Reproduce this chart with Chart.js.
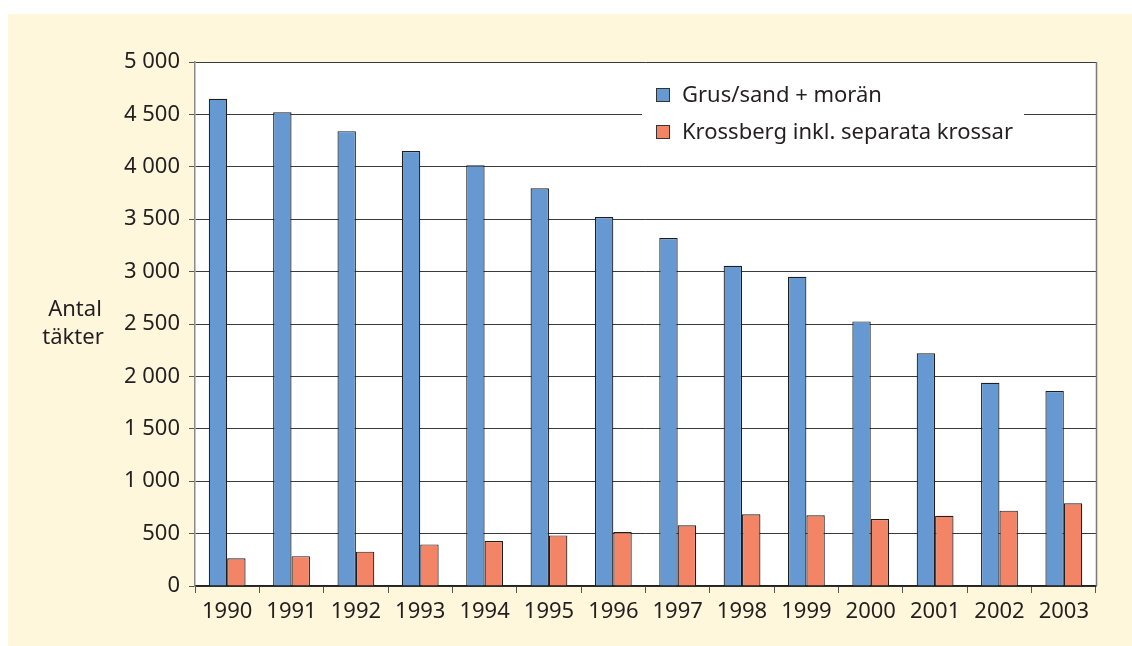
<!DOCTYPE html>
<html>
<head>
<meta charset="utf-8">
<script src="https://cdn.jsdelivr.net/npm/chart.js@4.4.0/dist/chart.umd.min.js"></script>
<style>
  html, body { margin: 0; padding: 0; background: #ffffff; }
  #wrap { position: absolute; left: 8px; top: 14px; width: 1124px; height: 632px; background: #fef7dc; }
  canvas { display: block; }
</style>
</head>
<body>
<div id="wrap"><canvas id="c" width="1124" height="632"></canvas></div>
<script>
const years = ["1990","1991","1992","1993","1994","1995","1996","1997","1998","1999","2000","2001","2002","2003"];
const grusSand = [4650, 4520, 4340, 4150, 4015, 3795, 3520, 3320, 3055, 2950, 2525, 2220, 1940, 1860];
const krossberg = [265, 285, 328, 397, 430, 483, 515, 580, 684, 674, 640, 671, 719, 789];
const seriesLabels = ["Grus/sand + morän", "Krossberg inkl. separata krossar"];
const yTitleLines = ["Antal", "täkter"];
const yMin = 0, yMax = 5000, yStep = 500;

const FONT = "'Noto Sans', 'Open Sans', sans-serif";
const FS = 22;
const TEXT = "#231f20";

function fmt(v) {
  if (v >= 1000) return Math.floor(v / 1000) + " " + String(v % 1000).padStart(3, "0");
  return String(v);
}

const extras = {
  id: "extras",
  beforeDraw(chart) {
    const ctx = chart.ctx;
    const ca = chart.chartArea;
    ctx.save();
    ctx.fillStyle = "#ffffff";
    ctx.fillRect(ca.left, ca.top, ca.right - ca.left, ca.bottom - ca.top);
    ctx.restore();
  },
  beforeDatasetsDraw(chart) {
    const ctx = chart.ctx;
    const ca = chart.chartArea;
    ctx.save();
    // right border
    ctx.strokeStyle = "#7a7a7a";
    ctx.lineWidth = 1.5;
    ctx.beginPath();
    ctx.moveTo(ca.right + 0.5, ca.top);
    ctx.lineTo(ca.right + 0.5, ca.bottom);
    ctx.stroke();
    // legend box (white)
    ctx.fillStyle = "#ffffff";
    ctx.fillRect(634, 62, 382, 78);
    const ds = chart.data.datasets;
    const ys = [81, 118];
    ctx.font = FS + "px " + FONT;
    ctx.textBaseline = "middle";
    ctx.textAlign = "left";
    ds.forEach((d, i) => {
      ctx.fillStyle = d.backgroundColor;
      ctx.fillRect(648.5, ys[i] - 6.5, 13, 13);
      ctx.strokeStyle = "#333";
      ctx.lineWidth = 1;
      ctx.strokeRect(648.5, ys[i] - 6.5, 13, 13);
      ctx.fillStyle = TEXT;
      ctx.fillText(d.label, 674, ys[i] + 1);
    });
    ctx.restore();
  },
  afterDraw(chart) {
    const ctx = chart.ctx;
    ctx.save();
    ctx.font = FS + "px " + FONT;
    ctx.fillStyle = TEXT;
    ctx.textAlign = "center";
    ctx.textBaseline = "middle";
    ctx.fillText(yTitleLines[0], 67, 296);
    ctx.fillText(yTitleLines[1], 65, 324);
    ctx.restore();
  }
};

new Chart(document.getElementById("c"), {
  type: "bar",
  data: {
    labels: years,
    datasets: [
      { label: seriesLabels[0], data: grusSand, backgroundColor: "#6699d2", borderColor: "#1e1e1e", borderWidth: 1.2 },
      { label: seriesLabels[1], data: krossberg, backgroundColor: "#f48466", borderColor: "#1e1e1e", borderWidth: 1.2 }
    ]
  },
  options: {
    responsive: false,
    animation: false,
    layout: { padding: { top: 48, right: 36, left: 0, bottom: 0 } },
    datasets: { bar: { categoryPercentage: 0.572, barPercentage: 1.0 } },
    plugins: { legend: { display: false }, tooltip: { enabled: false } },
    scales: {
      x: {
        grid: { offset: true, drawOnChartArea: false, drawTicks: true, tickLength: 7, color: "#555", lineWidth: 1 },
        border: { display: true, color: "#222", width: 1.5 },
        ticks: { color: TEXT, font: { family: FONT, size: FS }, padding: 6, maxRotation: 0, autoSkip: false },
        afterFit(s) { s.height = 60; }
      },
      y: {
        min: yMin, max: yMax,
        grid: { color: "#3a3a3a", lineWidth: 1, tickLength: 6, tickColor: "#555" },
        border: { display: true, color: "#8a8a8a", width: 1.5 },
        ticks: { stepSize: yStep, color: TEXT, font: { family: FONT, size: FS }, padding: 9, callback: (v) => fmt(v) },
        afterFit(s) { s.width = 187; }
      }
    }
  },
  plugins: [extras]
});
</script>
</body>
</html>
